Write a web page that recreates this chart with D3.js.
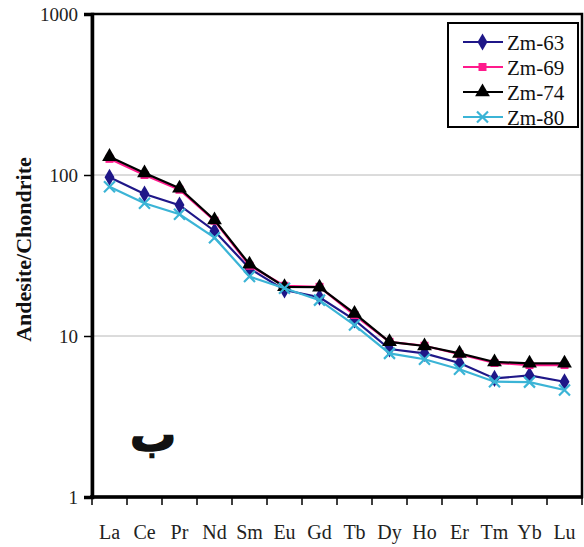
<!DOCTYPE html>
<html>
<head>
<meta charset="utf-8">
<script src="https://cdn.jsdelivr.net/npm/d3@7"></script>
<style>
  body { margin: 0; background: #fff; }
  svg { display: block; }
</style>
</head>
<body>
<svg id="chart" width="584" height="547"></svg>
<script>
// REE pattern data (chondrite normalised)
const elements = ["La","Ce","Pr","Nd","Sm","Eu","Gd","Tb","Dy","Ho","Er","Tm","Yb","Lu"];
const zm63 = [96.8, 76.2, 65, 44.9, 26.3, 19.3, 17.4, 12.6, 8.3, 7.8, 6.8, 5.45, 5.7, 5.2];
const zm69 = [126, 100, 81, 52, 27.3, 20.5, 20.2, 13.5, 9.2, 8.7, 7.7, 6.8, 6.6, 6.6];
const zm74 = [130, 103, 82.7, 52.5, 27.9, 20.2, 20.1, 13.8, 9.2, 8.67, 7.8, 6.9, 6.77, 6.77];
const zm80 = [84.6, 66.7, 57, 40.8, 23.4, 19.8, 16.7, 11.7, 7.8, 7.17, 6.21, 5.2, 5.17, 4.62];
const seriesNames = ["Zm-63", "Zm-69", "Zm-74", "Zm-80"];
const yTicks = [1, 10, 100, 1000];

const serif = "'Liberation Serif', 'Times New Roman', Times, serif";

const series = [
  { name: seriesNames[0], values: zm63, color: "#1f1788", marker: d3.symbolDiamond, size: 85 },
  { name: seriesNames[1], values: zm69, color: "#ff1a8c", marker: d3.symbolSquare, size: 64 },
  { name: seriesNames[2], values: zm74, color: "#000000", marker: d3.symbolTriangle, size: 95 },
  { name: seriesNames[3], values: zm80, color: "#3bb4d6", marker: "x", size: 0 }
];

const svg = d3.select("#chart");
const margin = { left: 92, top: 14, right: 2, bottom: 50 };
const W = 584, H = 547;
const x0 = margin.left, x1 = W - margin.right, y0 = margin.top, y1 = H - margin.bottom;

const x = d3.scaleBand().domain(elements).range([x0, x1]);
const y = d3.scaleLog().domain([1, 1000]).range([y1, y0]);

// gridlines
svg.append("g").selectAll("line")
  .data([10, 100])
  .enter().append("line")
  .attr("x1", x0).attr("x2", x1)
  .attr("y1", d => y(d)).attr("y2", d => y(d))
  .attr("stroke", "#b8b8b8").attr("stroke-width", 1);

// frame
svg.append("rect")
  .attr("x", x0).attr("y", y0)
  .attr("width", x1 - x0).attr("height", y1 - y0)
  .attr("fill", "none").attr("stroke", "#000").attr("stroke-width", 2.5);

// y axis
const yAxis = svg.append("g")
  .attr("transform", `translate(${x0},0)`)
  .call(d3.axisLeft(y).tickValues(yTicks).tickFormat(d3.format("d")).tickSize(8).tickPadding(6));
yAxis.select(".domain").attr("stroke-width", 3.5);
yAxis.selectAll(".tick line").attr("stroke-width", 1.5);
yAxis.selectAll("text")
  .style("font-size", "19px").style("font-family", serif).attr("fill", "#222")
  .attr("dy", "0.35em");

// x axis: ticks at band boundaries
const xAxis = svg.append("g").attr("transform", `translate(0,${y1})`);
xAxis.append("line").attr("x1", x0 - 2).attr("x2", x1 + 1).attr("y1", 0).attr("y2", 0)
  .attr("stroke", "#000").attr("stroke-width", 3.5);
xAxis.selectAll("line.tk")
  .data(elements.concat(["_end"]))
  .enter().append("line").attr("class", "tk")
  .attr("x1", (d, i) => x0 + i * x.bandwidth())
  .attr("x2", (d, i) => x0 + i * x.bandwidth())
  .attr("y1", 0).attr("y2", 8)
  .attr("stroke", "#000").attr("stroke-width", 1.5);
xAxis.selectAll("text")
  .data(elements)
  .enter().append("text")
  .attr("x", d => x(d) + x.bandwidth() / 2)
  .attr("y", 42)
  .attr("text-anchor", "middle")
  .attr("fill", "#222")
  .style("font-size", "20px").style("font-family", serif)
  .text(d => d);

// y label
svg.append("text")
  .attr("transform", `translate(31,${(y0 + y1) / 2 - 6}) rotate(-90)`)
  .attr("text-anchor", "middle")
  .attr("fill", "#111")
  .style("font-size", "22px").style("font-weight", "bold").style("font-family", serif)
  .text("Andesite/Chondrite");

// series
const cx = d => x(d) + x.bandwidth() / 2;
const line = d3.line().x((v, i) => cx(elements[i])).y(v => y(v));

function drawMarker(g, s, px, py) {
  if (s.marker === "x") {
    const r = 5.5;
    g.append("path")
      .attr("d", `M${px - r},${py - r}L${px + r},${py + r}M${px - r},${py + r}L${px + r},${py - r}`)
      .attr("stroke", s.color).attr("stroke-width", 2.2).attr("fill", "none");
  } else {
    g.append("path")
      .attr("d", d3.symbol().type(s.marker).size(s.size)())
      .attr("transform", `translate(${px},${py})`)
      .attr("fill", s.color);
  }
}

series.forEach(s => {
  const g = svg.append("g");
  g.append("path").datum(s.values)
    .attr("d", line)
    .attr("fill", "none").attr("stroke", s.color).attr("stroke-width", 2.2);
  s.values.forEach((v, i) => drawMarker(g, s, cx(elements[i]), y(v)));
});

// legend
const lg = svg.append("g");
lg.append("rect").attr("x", 448).attr("y", 23).attr("width", 130).attr("height", 104)
  .attr("fill", "#fff").attr("stroke", "#000").attr("stroke-width", 2);
series.forEach((s, i) => {
  const ly = 42 + i * 25;
  lg.append("line").attr("x1", 463).attr("x2", 503).attr("y1", ly).attr("y2", ly)
    .attr("stroke", s.color).attr("stroke-width", 2.2);
  drawMarker(lg, s, 482.5, ly);
  lg.append("text").attr("x", 507).attr("y", ly + 7.5)
    .attr("fill", "#111")
    .style("font-size", "21px").style("font-family", serif).text(s.name);
});

// panel letter
svg.append("text")
  .attr("x", 153).attr("y", 451)
  .attr("text-anchor", "middle")
  .attr("fill", "#111").attr("stroke", "#111").attr("stroke-width", 1.6)
  .style("font-size", "46px").style("font-weight", "bold")
  .style("font-family", "'DejaVu Sans', sans-serif")
  .text("ب");
</script>
</body>
</html>
